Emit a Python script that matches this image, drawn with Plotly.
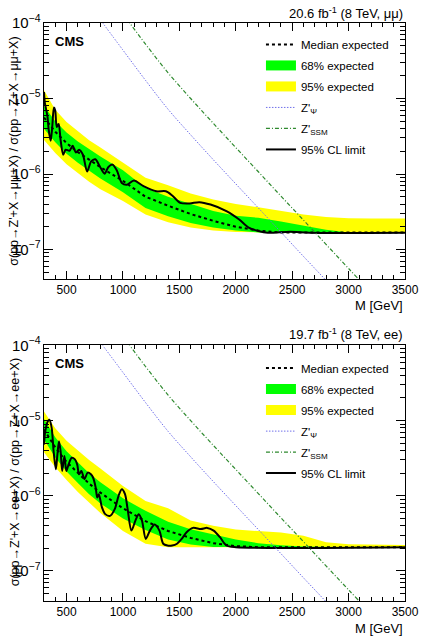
import plotly.graph_objects as go

# ---------------- data ----------------
M_band = [300, 400, 500, 600, 700, 800, 1000, 1200, 1400, 1600, 1800, 2000, 2200, 2400, 2600, 2800, 3000, 3200, 3500]

# mu mu channel
mm_median = [5.6e-6, 3.63e-6, 2.57e-6, 1.95e-6, 1.55e-6, 1.23e-6, 8.1e-7, 5.0e-7, 3.8e-7, 2.95e-7, 2.4e-7, 2.0e-7, 1.78e-7,
             1.68e-7, 1.68e-7, 1.68e-7, 1.68e-7, 1.68e-7, 1.68e-7]
mm_g_up = [7.9e-6, 5.0e-6, 3.55e-6, 2.7e-6, 2.14e-6, 1.7e-6, 1.12e-6, 6.5e-7, 5.0e-7, 4.0e-7, 3.24e-7, 2.8e-7, 2.63e-7,
           2.34e-7, 2.04e-7, 1.82e-7, 1.68e-7, 1.68e-7, 1.68e-7]
mm_g_lo = [3.98e-6, 2.63e-6, 1.86e-6, 1.41e-6, 1.1e-6, 8.7e-7, 5.75e-7, 3.55e-7, 2.75e-7, 2.24e-7, 1.95e-7, 1.78e-7, 1.68e-7,
           1.68e-7, 1.68e-7, 1.68e-7, 1.68e-7, 1.68e-7, 1.68e-7]
mm_y_up = [1.29e-5, 7.1e-6, 4.9e-6, 3.7e-6, 2.8e-6, 2.24e-6, 1.41e-6, 8.9e-7, 7.1e-7, 5.5e-7, 4.6e-7, 4.0e-7, 3.63e-7,
           3.24e-7, 2.9e-7, 2.7e-7, 2.6e-7, 2.57e-7, 2.57e-7]
mm_y_lo = [2.82e-6, 1.9e-6, 1.35e-6, 1.02e-6, 7.9e-7, 6.3e-7, 4.4e-7, 2.9e-7, 2.3e-7, 1.95e-7, 1.78e-7, 1.7e-7, 1.68e-7,
           1.68e-7, 1.68e-7, 1.68e-7, 1.68e-7, 1.68e-7, 1.68e-7]
mm_obs_M = [300, 308, 317, 331, 342, 359, 373, 388, 399, 413, 430, 447, 470, 492, 526, 554, 583, 611, 645, 682, 718, 755,
            795, 837, 871, 908, 945, 990, 1035, 1097, 1182, 1295, 1380, 1436, 1507, 1592, 1677, 1776, 1917, 2030, 2115,
            2200, 2284, 2482, 2652, 3500]
mm_obs = [1.22e-5, 8.6e-6, 7.4e-6, 5.7e-6, 3.8e-6, 2.75e-6, 4.2e-6, 7.6e-6, 7.0e-6, 4.2e-6, 4.6e-6, 2.83e-6, 1.8e-6,
          2.1e-6, 2.03e-6, 2.36e-6, 1.93e-6, 2.1e-6, 1.8e-6, 1.08e-6, 1.47e-6, 1.57e-6, 1.26e-6, 1.01e-6, 1.24e-6,
          1.33e-6, 1.12e-6, 7.6e-7, 7.2e-7, 8.2e-7, 6.9e-7, 5.9e-7, 5.9e-7, 5.2e-7, 4.15e-7, 4.07e-7, 4.24e-7, 3.94e-7,
          3.23e-7, 2.5e-7, 1.95e-7, 1.76e-7, 1.67e-7, 1.72e-7, 1.67e-7, 1.67e-7]

# e e channel
ee_median = [7.6e-6, 4.4e-6, 2.82e-6, 2.0e-6, 1.45e-6, 1.1e-6, 6.8e-7, 4.6e-7, 3.4e-7, 2.75e-7, 2.34e-7, 2.14e-7, 2.07e-7,
             2.07e-7, 2.07e-7, 2.07e-7, 2.07e-7, 2.07e-7, 2.07e-7]
ee_g_up = [1.05e-5, 6.0e-6, 3.9e-6, 2.75e-6, 2.0e-6, 1.51e-6, 9.3e-7, 6.3e-7, 4.5e-7, 3.6e-7, 3.1e-7, 2.63e-7, 2.34e-7,
           2.19e-7, 2.11e-7, 2.07e-7, 2.07e-7, 2.07e-7, 2.07e-7]
ee_g_lo = [5.6e-6, 3.24e-6, 2.1e-6, 1.48e-6, 1.05e-6, 7.9e-7, 5.0e-7, 3.5e-7, 2.63e-7, 2.24e-7, 2.09e-7, 2.07e-7, 2.07e-7,
           2.07e-7, 2.07e-7, 2.07e-7, 2.07e-7, 2.07e-7, 2.07e-7]
ee_y_up = [1.32e-5, 7.9e-6, 5.4e-6, 4.0e-6, 3.0e-6, 2.3e-6, 1.35e-6, 8.5e-7, 6.8e-7, 4.7e-7, 4.0e-7, 3.55e-7, 3.4e-7,
           3.24e-7, 2.95e-7, 2.4e-7, 2.26e-7, 2.24e-7, 2.21e-7]
ee_y_lo = [3.8e-6, 2.4e-6, 1.62e-6, 1.12e-6, 8.1e-7, 5.9e-7, 3.4e-7, 2.3e-7, 2.07e-7, 2.07e-7, 2.07e-7, 2.07e-7, 2.07e-7,
           2.07e-7, 2.07e-7, 2.07e-7, 2.07e-7, 2.07e-7, 2.07e-7]
ee_obs_M = [300, 311, 334, 348, 368, 385, 405, 419, 433, 447, 461, 481, 498, 518, 546, 574, 594, 611, 631, 659, 687, 716,
            735, 758, 772, 786, 814, 843, 885, 928, 961, 990, 1018, 1041, 1075, 1111, 1140, 1168, 1202, 1239, 1281, 1323,
            1357, 1394, 1436, 1479, 1521, 1564, 1620, 1691, 1747, 1804, 1860, 1917, 2002, 3500]
ee_obs = [4.8e-6, 7.2e-6, 9.8e-6, 1.03e-5, 8.0e-6, 3.94e-6, 2.25e-6, 3.56e-6, 5.3e-6, 3.94e-6, 2.14e-6, 3.38e-6, 2.14e-6,
          2.62e-6, 3.21e-6, 3.05e-6, 2.62e-6, 1.93e-6, 2.14e-6, 1.66e-6, 2.03e-6, 1.93e-6, 1.75e-6, 1.29e-6, 9.5e-7,
          1.05e-6, 7.0e-7, 5.7e-7, 5.4e-7, 6.7e-7, 1.0e-6, 1.22e-6, 1.05e-6, 6.7e-7, 3.44e-7, 4.7e-7, 5.7e-7, 4.7e-7,
          2.67e-7, 3.44e-7, 4.14e-7, 3.44e-7, 2.3e-7, 2.18e-7, 2.18e-7, 2.3e-7, 2.67e-7, 3.27e-7, 3.74e-7, 3.62e-7,
          3.74e-7, 3.44e-7, 2.81e-7, 2.18e-7, 2.07e-7, 2.07e-7]

# theory curves
M_th = [800, 1000, 1200, 1400, 1600, 1800, 2000, 2200, 2400, 2600, 2800, 3000, 3200]
zpsi = [1.1e-4, 4.37e-5, 1.74e-5, 7.2e-6, 3.3e-6, 1.55e-6, 7.4e-7, 3.55e-7, 1.7e-7, 8.1e-8, 3.9e-8, 1.86e-8, 8.9e-9]
zssm = [3.3e-4, 1.32e-4, 5.25e-5, 2.19e-5, 1.0e-5, 4.7e-6, 2.24e-6, 1.07e-6, 5.1e-7, 2.45e-7, 1.17e-7, 5.6e-8, 2.7e-8]

x_ticks = [500, 1000, 1500, 2000, 2500, 3000, 3500]

FONT = "Liberation Sans, Arial, Helvetica, sans-serif"
YELLOW = "#ffff00"
GREEN = "#00ff00"
BLUE = "#6f6fea"
DGREEN = "#2f8a2f"

fig = go.Figure()


def add_panel(xa, ya, leg, median, g_up, g_lo, y_up, y_lo, obs_M, obs):
    common = dict(xaxis=xa, yaxis=ya, legend=leg)
    fig.add_trace(go.Scatter(x=M_band + M_band[::-1], y=y_up + y_lo[::-1], fill="toself", fillcolor=YELLOW,
                             line=dict(width=0, color=YELLOW), mode="lines", showlegend=False,
                             hoverinfo="skip", **common))
    fig.add_trace(go.Scatter(x=M_band + M_band[::-1], y=g_up + g_lo[::-1], fill="toself", fillcolor=GREEN,
                             line=dict(width=0, color=GREEN), mode="lines", showlegend=False,
                             hoverinfo="skip", **common))
    fig.add_trace(go.Scatter(x=M_band, y=median, mode="lines", name="Median expected",
                             line=dict(color="black", width=2, dash="3px,3px"),
                             legendrank=1, legendgroup=leg + "a", **common))
    # legend-only boxes for the bands
    fig.add_trace(go.Scatter(x=[None], y=[None], mode="lines", name="68% expected",
                             line=dict(color=GREEN, width=15), legendrank=2, legendgroup=leg + "b", **common))
    fig.add_trace(go.Scatter(x=[None], y=[None], mode="lines", name="95% expected",
                             line=dict(color=YELLOW, width=15), legendrank=3, legendgroup=leg + "c", **common))
    fig.add_trace(go.Scatter(x=obs_M, y=obs, mode="lines", name="95% CL limit",
                             line=dict(color="black", width=2, shape="spline", smoothing=0.8),
                             legendrank=6, legendgroup=leg + "f", **common))
    fig.add_trace(go.Scatter(x=M_th, y=zpsi, mode="lines", name="Z'<sub>Ψ</sub>",
                             line=dict(color=BLUE, width=1, dash="1.5px,1.5px", shape="spline"),
                             legendrank=4, legendgroup=leg + "d", **common))
    fig.add_trace(go.Scatter(x=M_th, y=zssm, mode="lines", name="Z'<sub>SSM</sub>",
                             line=dict(color=DGREEN, width=1.2, dash="4px,2px,1px,2px", shape="spline"),
                             legendrank=5, legendgroup=leg + "e", **common))


add_panel("x", "y", "legend", mm_median, mm_g_up, mm_g_lo, mm_y_up, mm_y_lo, mm_obs_M, mm_obs)
add_panel("x2", "y2", "legend2", ee_median, ee_g_up, ee_g_lo, ee_y_up, ee_y_lo, ee_obs_M, ee_obs)


def xstyle(anchor):
    return dict(range=[300, 3500], tickmode="array", tickvals=x_ticks, ticks="inside", ticklen=8,
                tickcolor="black", showline=True, linecolor="black", linewidth=1, mirror="ticks",
                showgrid=False, zeroline=False, anchor=anchor, domain=[0, 1],
                minor=dict(ticks="inside", ticklen=4, dtick=100, tick0=0, tickcolor="black", showgrid=False),
                tickfont=dict(size=12, color="black", family=FONT))


def ystyle(anchor, rng, dom):
    return dict(type="log", range=rng, dtick=1, exponentformat="power", ticks="inside", ticklen=9,
                tickcolor="black", showline=True, linecolor="black", linewidth=1, mirror="ticks",
                showgrid=False, zeroline=False, anchor=anchor, domain=dom,
                minor=dict(ticks="inside", ticklen=5, tickcolor="black", showgrid=False),
                tickfont=dict(size=12, color="black", family=FONT))


leg_common = dict(font=dict(size=11.5, family=FONT, color="black"), bgcolor="rgba(0,0,0,0)",
                  traceorder="grouped", tracegroupgap=2, xanchor="left", yanchor="top", itemwidth=30)

fig.update_layout(
    width=431, height=637, margin=dict(l=39, r=14, t=19, b=36),
    paper_bgcolor="white", plot_bgcolor="white",
    font=dict(family=FONT, color="black"),
    xaxis=xstyle("y"), yaxis=ystyle("x", [-7.39, -4], [0.5572, 1]),
    xaxis2=xstyle("y2"), yaxis2=ystyle("x2", [-7.40, -4], [0, 0.4421]),
    legend=dict(x=0.601, y=0.988, **leg_common),
    legend2=dict(x=0.601, y=0.428, **leg_common),
    showlegend=True,
)

ann = [
    ("20.6 fb<sup>-1</sup> (8 TeV, μμ)", 1.0, 1.0172, "right", 13, 0),
    ("19.7 fb<sup>-1</sup> (8 TeV, ee)", 1.0, 0.4622, "right", 13, 0),
    ("<b>CMS</b>", 0.0238, 0.968, "left", 13, 0),
    ("<b>CMS</b>", 0.0238, 0.4105, "left", 13, 0),
    ("M [GeV]", 1.0, 0.512, "right", 13, 0),
    ("M [GeV]", 1.0, -0.0476, "right", 13, 0),
    ("σ(pp→Z'+X→μμ+X) / σ(pp→Z+X→μμ+X)", -0.082, 0.778, "center", 12.5, -90),
    ("σ(pp→Z'+X→ee+X) / σ(pp→Z+X→ee+X)", -0.082, 0.2234, "center", 12.5, -90),
]
for text, x, y, xa, size, ang in ann:
    fig.add_annotation(text=text, x=x, y=y, xref="paper", yref="paper", xanchor=xa, yanchor="middle",
                       showarrow=False, textangle=ang, font=dict(size=size, family=FONT, color="black"))

fig.write_html("out.html")
